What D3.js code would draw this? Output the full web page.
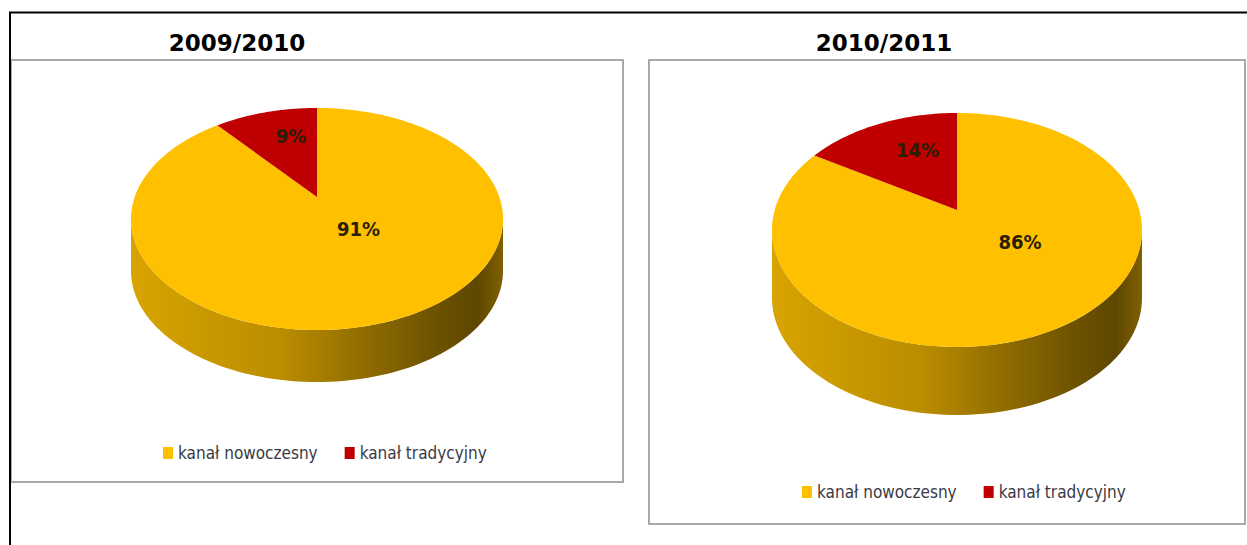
<!DOCTYPE html>
<html lang="pl">
<head>
  <meta charset="UTF-8">
  <title>Kanał nowoczesny vs tradycyjny</title>
  <script src="https://d3js.org/d3.v7.min.js"></script>
  <style>
    body {
      margin: 0;
      background: #fff;
    }
    .title {
      font-family: "DejaVu Sans", Verdana, sans-serif;
      font-weight: bold;
      font-size: 23px;
      fill: #000;
      text-anchor: middle;
    }
    .label {
      font-family: "Liberation Sans Narrow", "DejaVu Sans Condensed", sans-serif;
      font-weight: bold;
      font-size: 20px;
      fill: #2a1f05;
      text-anchor: middle;
      dominant-baseline: central;
    }
    .legend {
      font-family: "Liberation Sans Narrow", "DejaVu Sans Condensed", sans-serif;
      font-size: 17px;
      fill: #3a3a44;
    }
  </style>
</head>
<body>
  <div id="chart"></div>

  <script>
    const categories = ["kanał nowoczesny", "kanał tradycyjny"];
    const seasons = ["2009/2010", "2010/2011"];
    const values2009 = [91, 9];
    const values2010 = [86, 14];
    const colors = ["#ffc000", "#c00000"];

    // layout of each panel (frame, pie ellipse, legend)
    const panels = [
      {title: seasons[0], values: values2009, titleX: 237,
       frame: {x: 11, y: 60, w: 612, h: 422},
       cx: 317, cy: 219, rx: 186, ry: 111, apexDy: -22, depth: 52,
       legendX: 163, legendY: 453},
      {title: seasons[1], values: values2010, titleX: 884,
       frame: {x: 649, y: 60, w: 596, h: 464},
       cx: 957, cy: 230, rx: 185, ry: 117, apexDy: -20, depth: 68,
       legendX: 802, legendY: 492}
    ];
    // label placement factors (share of radius) for [big, small] slice
    const labelK = [{kx: 0.8, ky: 0.3}, {kx: 0.5, ky: 0.57}];

    const W = 1247, H = 545;
    const svg = d3.select("#chart").append("svg")
      .attr("width", W)
      .attr("height", H);

    const defs = svg.append("defs");
    const grad = defs.append("linearGradient")
      .attr("id", "side")
      .attr("x1", "0%").attr("x2", "100%")
      .attr("y1", "0%").attr("y2", "0%");
    grad.append("stop").attr("offset", "0%").attr("stop-color", "#d8a400");
    grad.append("stop").attr("offset", "40%").attr("stop-color", "#bb8d00");
    grad.append("stop").attr("offset", "80%").attr("stop-color", "#705400");
    grad.append("stop").attr("offset", "93%").attr("stop-color", "#5e4700");
    grad.append("stop").attr("offset", "100%").attr("stop-color", "#806000");

    const pie = d3.pie().sort(null).value(d => d);

    panels.forEach(p => {
      const g = svg.append("g");

      g.append("text")
        .attr("class", "title")
        .attr("x", p.titleX)
        .attr("y", 51)
        .text(p.title);

      g.append("rect")
        .attr("x", p.frame.x).attr("y", p.frame.y)
        .attr("width", p.frame.w).attr("height", p.frame.h)
        .attr("fill", "#fff")
        .attr("stroke", "#a8a8a8")
        .attr("stroke-width", 2);

      const pt = (a, dy = 0) => [p.cx + p.rx * Math.sin(a), p.cy - p.ry * Math.cos(a) + dy];
      const apex = [p.cx, p.cy + p.apexDy];

      // front side of the cylinder
      const front = d3.range(90, 271, 2).map(d => pt(d * Math.PI / 180));
      const back = front.slice().reverse().map(([x, y]) => [x, y + p.depth]);
      g.append("path")
        .attr("d", d3.line()(front.concat(back)) + "Z")
        .attr("fill", "url(#side)");

      // top face slices
      const arcs = pie(p.values);
      g.selectAll(".slice")
        .data(arcs)
        .join("path")
        .attr("class", "slice")
        .attr("fill", (d, i) => colors[i])
        .attr("d", d => {
          const n = Math.max(2, Math.ceil((d.endAngle - d.startAngle) / 0.02));
          const pts = d3.range(n + 1).map(i => pt(d.startAngle + (d.endAngle - d.startAngle) * i / n));
          return d3.line()([apex].concat(pts)) + "Z";
        });

      g.selectAll(".label")
        .data(arcs)
        .join("text")
        .attr("class", "label")
        .attr("x", (d, i) => p.cx + labelK[i].kx * p.rx * Math.sin((d.startAngle + d.endAngle) / 2))
        .attr("y", (d, i) => apex[1] - labelK[i].ky * p.ry * Math.cos((d.startAngle + d.endAngle) / 2))
        .text(d => d.data + "%");

      // legend
      const lg = g.append("g").attr("transform", `translate(${p.legendX},${p.legendY})`);
      let x = 0;
      categories.forEach((c, i) => {
        lg.append("rect")
          .attr("x", x).attr("y", -6)
          .attr("width", 10).attr("height", 12)
          .attr("fill", colors[i]);
        const t = lg.append("text")
          .attr("class", "legend")
          .attr("x", x + 15)
          .attr("y", 6)
          .text(c);
        x += 15 + t.node().getComputedTextLength() + 27;
      });
    });

    // outer table border, drawn on top
    svg.append("line")
      .attr("x1", 9).attr("x2", W).attr("y1", 12.5).attr("y2", 12.5)
      .attr("stroke", "#000").attr("stroke-width", 2);
    svg.append("line")
      .attr("x1", 10).attr("x2", 10).attr("y1", 12).attr("y2", H)
      .attr("stroke", "#000").attr("stroke-width", 2);
  </script>
</body>
</html>
